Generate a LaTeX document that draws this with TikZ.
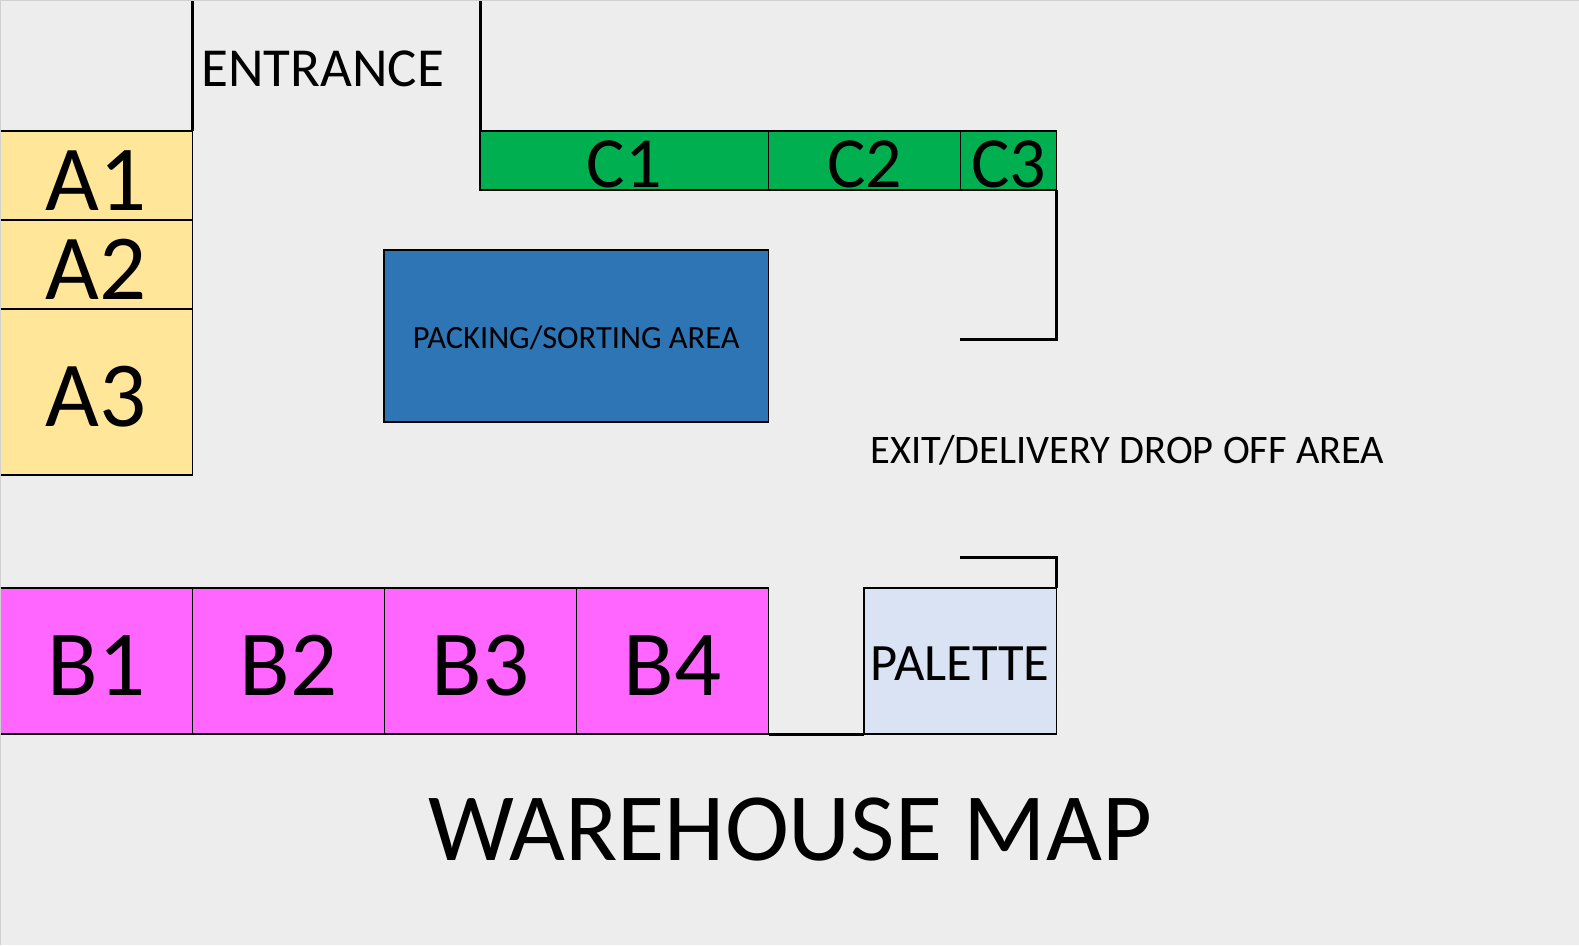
\documentclass[tikz,border=0pt]{standalone}
\usepackage{fontspec}
\setmainfont{Carlito}
\usetikzlibrary{positioning}
\definecolor{floorgrey}{HTML}{EDEDED}
\definecolor{rimgrey}{HTML}{D0D0D0}
\definecolor{rackA}{HTML}{FFE699}
\definecolor{rackB}{HTML}{FF66FF}
\definecolor{rackC}{HTML}{00B050}
\definecolor{packblue}{HTML}{2E75B6}
\definecolor{paletteblue}{HTML}{DAE3F3}
\tikzset{
  zone/.style = {rectangle, draw=black, line width=1.8pt, inner sep=0pt, outer sep=0pt,
    anchor=north west, align=center},
  rack_a/.style = {zone, fill=rackA, minimum width=192.5pt, font=\fontsize{93}{93}\selectfont,
    text height=69pt, text depth=0pt},
  rack_b/.style = {zone, fill=rackB, minimum width=192pt, minimum height=146pt,
    font=\fontsize{93}{93}\selectfont, text height=68pt, text depth=0pt},
  rack_c/.style = {zone, fill=rackC, minimum height=59pt,
    font=\fontsize{72}{72}\selectfont, text height=54pt, text depth=0pt},
  wall/.style = {draw=black, line width=3pt},
  caption/.style = {inner sep=0pt, outer sep=0pt, anchor=base west}
}

\begin{document}
\begin{tikzpicture}[x=1pt,y=-1pt]
    \fill [floorgrey] (0,0) rectangle (1579,945);
    \useasboundingbox (0,0) rectangle (1579,945);
    % A racks
    \node [rack_a, minimum height=89pt] (A1) at (0,131) {A1};
    \node [rack_a, minimum height=89pt, below=0pt of A1.south west, anchor=north west] (A2) {A2};
    \node [rack_a, minimum height=166pt, below=0pt of A2.south west, anchor=north west] (A3) {A3};
    % B racks
    \node [rack_b] (B1) at (0.5,588.3) {B1};
    \node [rack_b, right=0pt of B1.north east, anchor=north west] (B2) {B2};
    \node [rack_b, right=0pt of B2.north east, anchor=north west] (B3) {B3};
    \node [rack_b, right=0pt of B3.north east, anchor=north west] (B4) {B4};
    % C racks
    \node [rack_c, minimum width=288.5pt] (C1) at (480,131) {C1};
    \node [rack_c, minimum width=192pt, right=0pt of C1.north east, anchor=north west] (C2) {C2};
    \node [rack_c, minimum width=96pt, right=0pt of C2.north east, anchor=north west] (C3) {C3};
    % areas
    \node [zone, fill=packblue, minimum width=384.5pt, minimum height=172pt,
      font=\fontsize{32.5}{32.5}\selectfont, text height=24pt, text depth=0pt] (packing) at (384,250) {PACKING/SORTING AREA};
    \node [zone, fill=paletteblue, minimum width=192.5pt, minimum height=146pt,
      font=\fontsize{52.5}{52.5}\selectfont, text height=38pt, text depth=0pt] (palette) at (864,588.3) {PALETTE};
    % texts
    \node [caption, font=\fontsize{55}{55}\selectfont] (entrance) at (201.5,86.8) {ENTRANCE};
    \node [caption, font=\fontsize{40.5}{40.5}\selectfont] (exit) at (870.5,463.5) {EXIT/DELIVERY DROP OFF AREA};
    \node [caption, font=\fontsize{96.5}{96.5}\selectfont] (title) at (428,860) {WAREHOUSE MAP};
    % walls
    \coordinate (entryL) at (192.5,1);
    \coordinate (entryR) at (480,1);
    \coordinate (dockA) at (1056.5,339.5);
    \coordinate (dockB) at (960,339.5);
    \coordinate (dockC) at (1056.5,557.5);
    \coordinate (dockD) at (960,557.5);
    \draw [wall] (entryL) -- (A1.north east);
    \draw [wall] (entryR) -- (C1.north west);
    \draw [wall] (C3.south east) -- (dockA) -- (dockB);
    \draw [wall] (palette.north east) -- (dockC) -- (dockD);
    \draw [wall] (B4.south east) -- (palette.south west);
    % outer rim
    \draw [rimgrey, line width=1.2pt] (0.5,945) -- (0.5,0.5) -- (1579,0.5);
\end{tikzpicture}
\end{document}
